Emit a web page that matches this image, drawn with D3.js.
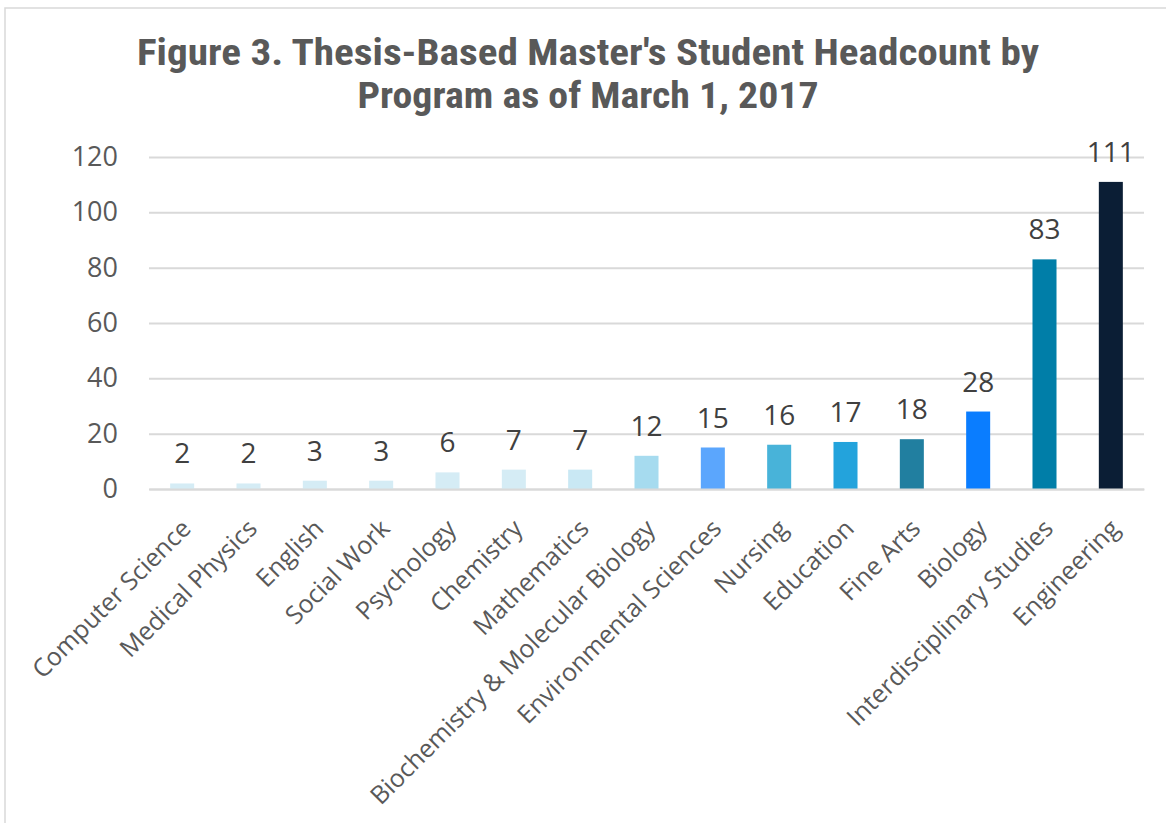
<!DOCTYPE html>
<html><head><meta charset="utf-8">
<script src="https://cdn.jsdelivr.net/npm/d3@7"></script>
<style>body{margin:0;background:#fff}svg{display:block}</style>
</head><body>
<script>
const categories = ["Computer Science","Medical Physics","English","Social Work","Psychology","Chemistry","Mathematics","Biochemistry & Molecular Biology","Environmental Sciences","Nursing","Education","Fine Arts","Biology","Interdisciplinary Studies","Engineering"];
const values = [2,2,3,3,6,7,7,12,15,16,17,18,28,83,111];
const colors = ["#d5ecf5","#d5ecf5","#d5ecf5","#d5ecf5","#d5ecf5","#d5ecf5","#c9e8f4","#a6dbef","#5ba6fd","#48b3d9","#23a3dc","#217fa0","#0a7dff","#007ea8","#0b1e35"];
const yTicks = [0,20,40,60,80,100,120];
const titleLines = ["Figure 3. Thesis-Based Master's Student Headcount by","Program as of March 1, 2017"];
const titleWidths = [902,461];

const W = 1166, H = 823;
const svg = d3.select("body").append("svg").attr("width", W).attr("height", H);
svg.append("rect").attr("x",5).attr("y",8).attr("width",1200).attr("height",900)
  .attr("fill","#fff").attr("stroke","#d9d9d9").attr("stroke-width",1.5);

const x = d3.scaleBand().domain(categories).range([149,1144]).paddingInner(0.638).paddingOuter(0.319);
const y = d3.scaleLinear().domain([0,120]).range([489,157]);

svg.append("g").selectAll("text").data(titleLines).join("text")
  .attr("x",588).attr("y",(d,i)=>65+i*43).attr("text-anchor","middle")
  .attr("font-family","'Liberation Sans Narrow','Roboto Condensed',sans-serif").attr("font-weight","bold")
  .attr("font-size",37).attr("fill","#595959")
  .attr("textLength",(d,i)=>titleWidths[i]).attr("lengthAdjust","spacingAndGlyphs")
  .text(d=>d);

const yAxis = svg.append("g").attr("transform","translate(149,0)")
  .call(d3.axisLeft(y).tickValues(yTicks).tickSize(-995).tickPadding(31));
yAxis.select(".domain").remove();
yAxis.selectAll(".tick line").attr("stroke","#d9d9d9").attr("stroke-width",2);
yAxis.selectAll(".tick text").attr("font-family","'Open Sans',sans-serif").attr("font-size",27).attr("fill","#595959");

svg.append("g").selectAll("rect").data(values).join("rect")
  .attr("x",(d,i)=>x(categories[i])).attr("width",x.bandwidth())
  .attr("y",d=>y(d)).attr("height",d=>y(0)-y(d))
  .attr("fill",(d,i)=>colors[i]);

svg.append("g").selectAll("text").data(values).join("text")
  .attr("x",(d,i)=>x(categories[i])+x.bandwidth()/2).attr("y",d=>y(d)-20)
  .attr("text-anchor","middle").attr("font-family","'Open Sans',sans-serif")
  .attr("font-size",28).attr("fill","#404040").text(d=>d);

const xAxis = svg.append("g").attr("transform","translate(0,489)")
  .call(d3.axisBottom(x).tickSize(0).tickPadding(0));
xAxis.select(".domain").attr("stroke","#d9d9d9").attr("stroke-width",2);
xAxis.selectAll(".tick text")
  .attr("font-family","'Open Sans',sans-serif").attr("font-size",25).attr("fill","#595959")
  .attr("text-anchor","end").attr("dy","0.35em")
  .attr("transform","translate(4,35) rotate(-45)");
</script>
</body></html>
